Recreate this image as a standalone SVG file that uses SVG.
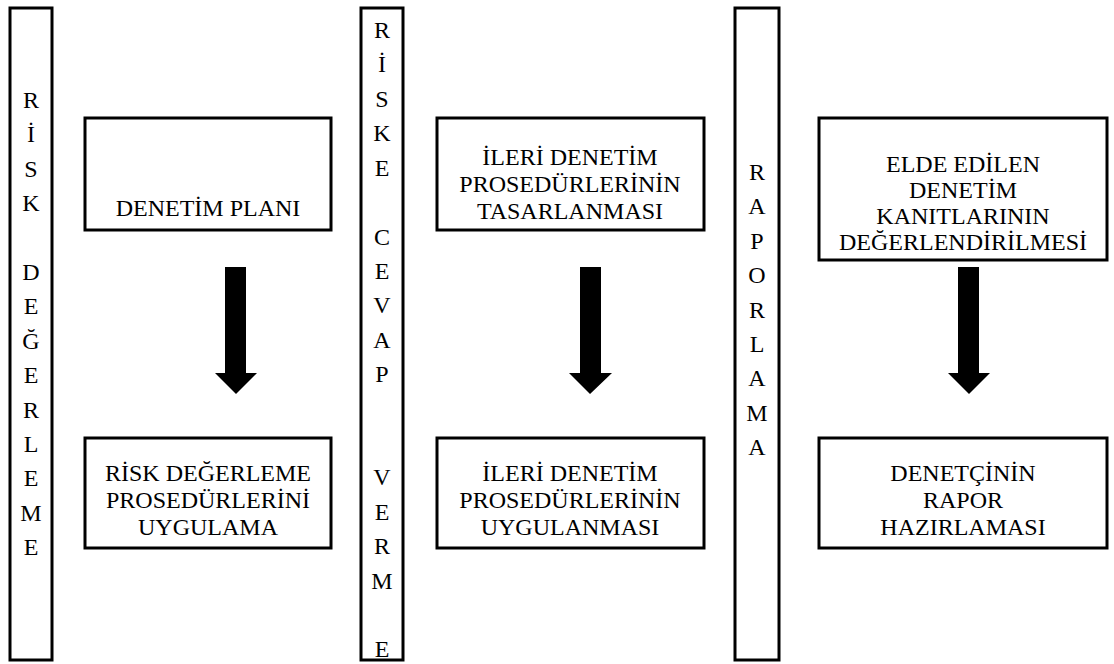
<svg xmlns="http://www.w3.org/2000/svg" width="1114" height="664" viewBox="0 0 1114 664">
<style>
.bar{fill:#fff;stroke:#000;stroke-width:3}
.box{fill:#fff;stroke:#000;stroke-width:3}
text{font-family:"Liberation Serif","Times New Roman",serif;font-size:24px;fill:#000;text-anchor:middle}
.arrow{fill:#000}
</style>
<rect width="1114" height="664" fill="#fff"/>
<g id="bar-risk-degerleme">
<rect class="bar" x="10" y="8" width="42" height="652"/>
<text x="31" y="108">R</text><text x="31" y="142">İ</text><text x="31" y="177">S</text><text x="31" y="211">K</text>
<text x="31" y="280">D</text><text x="31" y="314">E</text><text x="31" y="349">Ğ</text><text x="31" y="383">E</text><text x="31" y="418">R</text><text x="31" y="452">L</text><text x="31" y="486">E</text><text x="31" y="521">M</text><text x="31" y="555">E</text>
</g>
<g id="bar-riske-cevap-verme">
<rect class="bar" x="361" y="8" width="42" height="652"/>
<text x="382" y="38">R</text><text x="382" y="72">İ</text><text x="382" y="107">S</text><text x="382" y="141">K</text><text x="382" y="176">E</text>
<text x="382" y="245">C</text><text x="382" y="279">E</text><text x="382" y="313">V</text><text x="382" y="348">A</text><text x="382" y="382">P</text>
<text x="382" y="485">V</text><text x="382" y="520">E</text><text x="382" y="554">R</text><text x="382" y="589">M</text>
<text x="382" y="657">E</text>
</g>
<g id="bar-raporlama">
<rect class="bar" x="735" y="8" width="44" height="652"/>
<text x="757" y="180">R</text><text x="757" y="214">A</text><text x="757" y="249">P</text><text x="757" y="283">O</text><text x="757" y="318">R</text><text x="757" y="352">L</text><text x="757" y="386">A</text><text x="757" y="421">M</text><text x="757" y="455">A</text>
</g>
<g id="box-denetim-plani">
<rect class="box" x="85" y="118" width="246" height="112"/>
<text x="208" y="216">DENETİM PLANI</text>
</g>
<g id="box-risk-degerleme-prosedurleri">
<rect class="box" x="85" y="438" width="246" height="110"/>
<text x="208" y="481">RİSK DEĞERLEME</text>
<text x="208" y="508">PROSEDÜRLERİNİ</text>
<text x="208" y="535">UYGULAMA</text>
</g>
<g id="box-ileri-tasarlanmasi">
<rect class="box" x="437" y="118" width="267" height="112"/>
<text x="570" y="165">İLERİ DENETİM</text>
<text x="570" y="192">PROSEDÜRLERİNİN</text>
<text x="570" y="219">TASARLANMASI</text>
</g>
<g id="box-ileri-uygulanmasi">
<rect class="box" x="437" y="438" width="267" height="110"/>
<text x="570" y="481">İLERİ DENETİM</text>
<text x="570" y="508">PROSEDÜRLERİNİN</text>
<text x="570" y="535">UYGULANMASI</text>
</g>
<g id="box-kanitlar">
<rect class="box" x="819" y="118" width="288" height="142"/>
<text x="963" y="172">ELDE EDİLEN</text>
<text x="963" y="198">DENETİM</text>
<text x="963" y="224">KANITLARININ</text>
<text x="963" y="250">DEĞERLENDİRİLMESİ</text>
</g>
<g id="box-rapor">
<rect class="box" x="819" y="438" width="288" height="110"/>
<text x="963" y="481">DENETÇİNİN</text>
<text x="963" y="508">RAPOR</text>
<text x="963" y="535">HAZIRLAMASI</text>
</g>
<g id="connectors">
<polygon class="arrow" points="225,267 246,267 246,373 257,373 236,394 215,373 225,373"/>
<polygon class="arrow" points="580,267 601,267 601,373 612,373 590,394 569,373 580,373"/>
<polygon class="arrow" points="958,267 979,267 979,373 990,373 969,394 948,373 958,373"/>
</g>
</svg>
